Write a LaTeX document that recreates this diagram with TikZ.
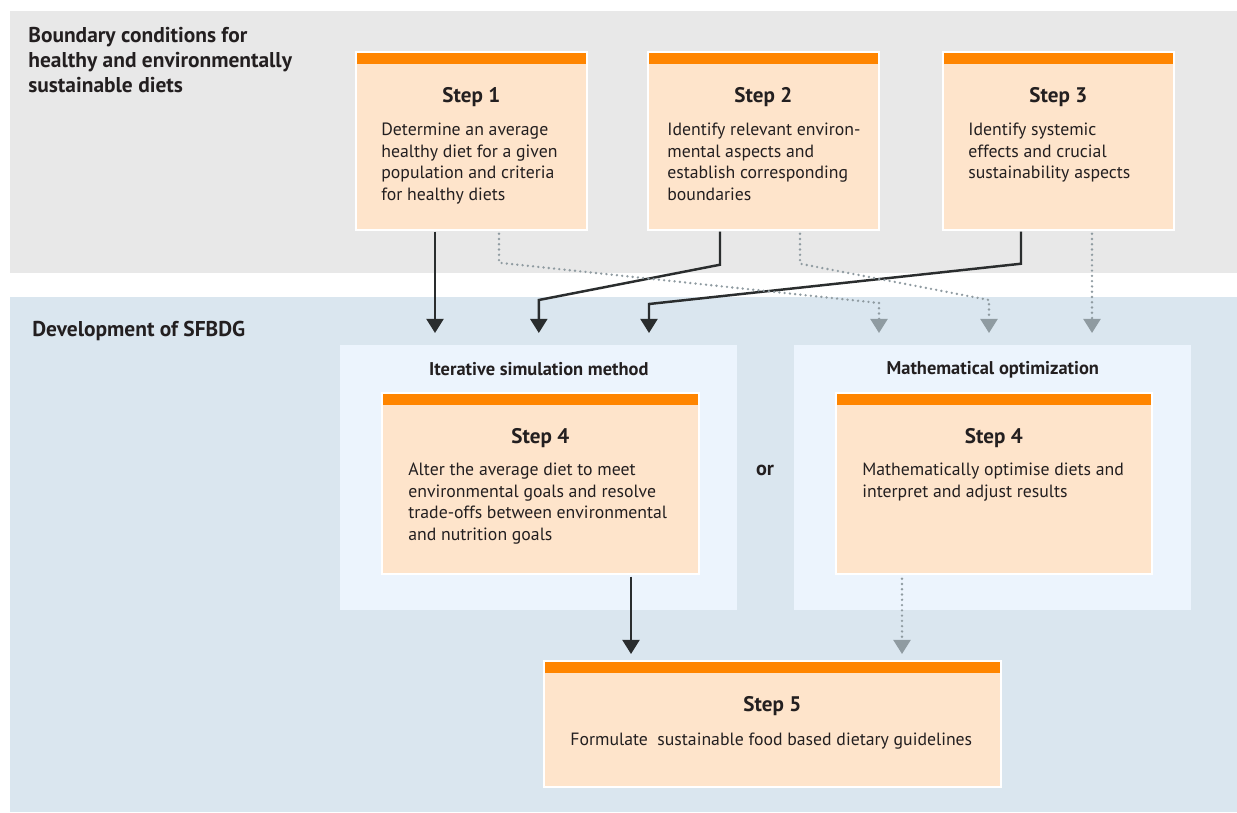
\documentclass[tikz,border=0pt]{standalone}
\usepackage{fontspec}
\setmainfont{PT Sans}
\usetikzlibrary{arrows.meta,calc,positioning}

\definecolor{panelgrey}{HTML}{E8E8E8}
\definecolor{panelblue}{HTML}{DAE6EF}
\definecolor{methodbg}{HTML}{ECF4FD}
\definecolor{stepfill}{HTML}{FEE4CB}
\definecolor{steporange}{HTML}{FF8500}
\definecolor{arrowdark}{HTML}{2A2D2E}
\definecolor{arrowgrey}{HTML}{8F9BA1}
\definecolor{textdark}{HTML}{231F20}

\tikzset{
  stepbox/.style={draw=white, line width=1pt, fill=stepfill, inner sep=0pt, anchor=north west,
    path picture={\fill[steporange] (path picture bounding box.north west) rectangle ($(path picture bounding box.north east)+(0,-0.24cm)$);}},
  methodpanel/.style={fill=methodbg, inner sep=0pt, anchor=north west, minimum width=7.94cm, minimum height=5.3cm},
  steptitle/.style={text=textdark, font=\fontsize{12}{14}\selectfont\bfseries, inner sep=0pt},
  stepbody/.style={text=textdark, font=\fontsize{10.1}{12.2}\selectfont, align=left, inner sep=0pt, anchor=north west},
  headline/.style={text=textdark, font=\fontsize{12.2}{14.2}\selectfont\bfseries, align=left, inner sep=0pt},
  methodtitle/.style={text=textdark, font=\fontsize{10.5}{12}\selectfont\bfseries, inner sep=0pt},
  flowline/.style={draw=arrowdark, line width=1.4pt, -{Triangle[width=9.6pt,length=8pt]}},
  altline/.style={draw=arrowgrey, line width=1.5pt, line cap=round, dash pattern=on 0pt off 3pt,
    -{Triangle[width=9.6pt,length=8pt]}}
}

\begin{document}
\begin{tikzpicture}[x=0.02cm, y=-0.02cm]
\useasboundingbox[fill=white] (0,0) rectangle (1237,812);

% panels
\fill[panelgrey] (10,11) rectangle (1237,273);
\fill[panelblue] (10,297) rectangle (1237,812);

\node[headline, anchor=north west] (boundary) at (28,27) {Boundary conditions for\\healthy and environmentally\\sustainable diets};
\node[headline, anchor=west] (development) at (32,331) {Development of SFBDG};

% steps 1-3
\node[stepbox, minimum width=4.62cm, minimum height=3.56cm] (step1) at (355,51) {};
\node[steptitle] (step1title) at ($(step1.north)+(0,46)$) {Step 1};
\node[stepbody] (step1text) at ($(step1.north west)+(26,72)$) {Determine an average\\healthy diet for a given\\population and criteria\\for healthy diets};

\node[stepbox, minimum width=4.62cm, minimum height=3.56cm] (step2) at (647,51) {};
\node[steptitle] (step2title) at ($(step2.north)+(0,46)$) {Step 2};
\node[stepbody] (step2text) at ($(step2.north west)+(20,72)$) {Identify relevant environ-\\mental aspects and\\establish corresponding\\boundaries};

\node[stepbox, minimum width=4.62cm, minimum height=3.56cm] (step3) at (942,51) {};
\node[steptitle] (step3title) at ($(step3.north)+(0,46)$) {Step 3};
\node[stepbody] (step3text) at ($(step3.north west)+(26,72)$) {Identify systemic\\effects and crucial\\sustainability aspects};

% methods
\node[methodpanel] (iterative) at (340,345) {};
\node[methodtitle] (iterativetitle) at ($(iterative.north)+(0,24)$) {Iterative simulation method};
\node[methodpanel] (optim) at (794,345) {};
\node[methodtitle] (optimtitle) at ($(optim.north)+(0,25)$) {Mathematical optimization};
\node[methodtitle, font=\fontsize{11.5}{12}\selectfont\bfseries] (or) at (765,470) {or};

\node[stepbox, minimum width=6.34cm, minimum height=3.62cm] (step4a) at (381,392) {};
\node[steptitle] (step4atitle) at ($(step4a.north)+(0,46)$) {Step 4};
\node[stepbody] (step4atext) at ($(step4a.north west)+(27,71)$) {Alter the average diet to meet\\environmental goals and resolve\\trade-offs between environmental\\and nutrition goals};

\node[stepbox, minimum width=6.32cm, minimum height=3.62cm] (step4b) at (835,392) {};
\node[steptitle] (step4btitle) at ($(step4b.north)+(0,46)$) {Step 4};
\node[stepbody] (step4btext) at ($(step4b.north west)+(27,71)$) {Mathematically optimise diets and\\interpret and adjust results};

% step 5
\node[stepbox, minimum width=9.14cm, minimum height=2.52cm] (step5) at (543,660) {};
\node[steptitle] (step5title) at ($(step5.north)+(0,46)$) {Step 5};
\node[stepbody, anchor=north] (step5text) at ($(step5.north)+(-1,73)$) {Formulate\ \ sustainable food based dietary guidelines};

% arrows
\draw[flowline] ($(step1.south west)+(80,1)$) -- ($(iterative.north west)+(95,-12)$);
\draw[flowline] ($(step2.south west)+(73,1)$) -- ++(0,33) -- ($(iterative.north)+(0,-45)$) -- ($(iterative.north)+(0,-12)$);
\draw[flowline] ($(step3.south west)+(79,1)$) -- ++(0,32) -- ($(iterative.north west)+(309,-41)$) -- ($(iterative.north west)+(309,-12)$);
\draw[altline] ($(step1.south west)+(144,3)$) -- ++(0,29) -- ($(optim.north west)+(85,-42)$) -- ($(optim.north west)+(85,-12)$);
\draw[altline] ($(step2.south west)+(153,3)$) -- ++(0,30) -- ($(optim.north west)+(195,-45)$) -- ($(optim.north west)+(195,-12)$);
\draw[altline] ($(step3.south west)+(150,3)$) -- ($(optim.north west)+(298,-12)$);
\draw[flowline] ($(step4a.south west)+(250,2)$) -- ($(step5.north west)+(88,-6)$);
\draw[altline] ($(step4b.south west)+(67,4)$) -- ($(step5.north west)+(359,-6)$);
\end{tikzpicture}
\end{document}
